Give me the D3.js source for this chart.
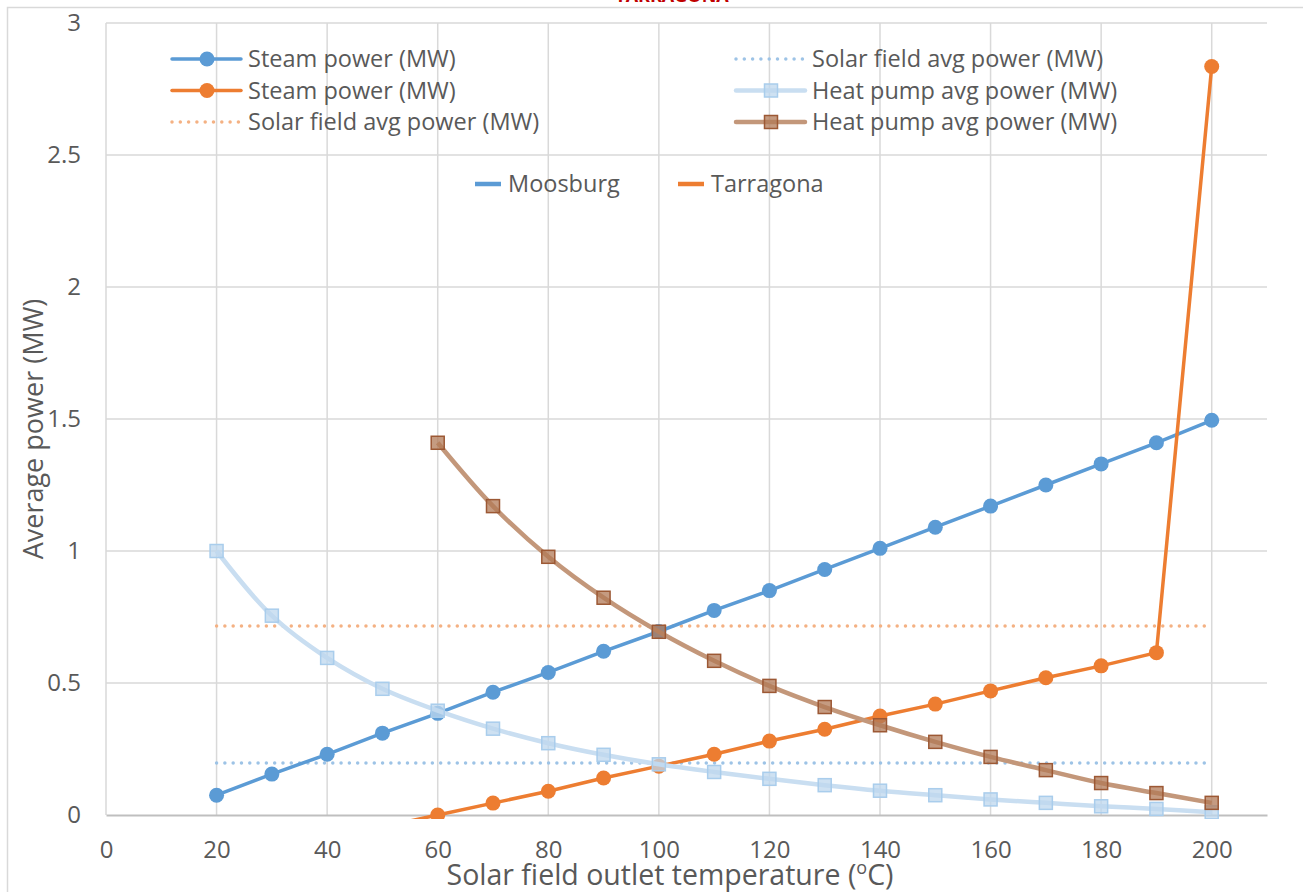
<!DOCTYPE html>
<meta charset="utf-8">
<script src="https://d3js.org/d3.v7.min.js"></script>
<style>
  body { margin: 0; background: #fff; }
  text { font-family: "Open Sans", sans-serif; fill: #595959; }
</style>
<div id="my_dataviz"></div>
<script>
    // data
    var temps = [20, 30, 40, 50, 60, 70, 80, 90, 100, 110, 120, 130, 140, 150, 160, 170, 180, 190, 200];
    var moosSteam = [0.075, 0.155, 0.23, 0.31, 0.385, 0.465, 0.54, 0.62, 0.695, 0.775, 0.85, 0.93, 1.01, 1.09, 1.17, 1.25, 1.33, 1.41, 1.495];
    var moosHeatPump = [1.0, 0.755, 0.595, 0.478, 0.395, 0.327, 0.272, 0.228, 0.192, 0.163, 0.137, 0.113, 0.092, 0.075, 0.059, 0.046, 0.033, 0.023, 0.01];
    var moosSolar = 0.197;

    var tarrTemps = [50, 60, 70, 80, 90, 100, 110, 120, 130, 140, 150, 160, 170, 180, 190, 200];
    var tarrSteam = [-0.045, 0, 0.045, 0.09, 0.14, 0.185, 0.23, 0.28, 0.325, 0.375, 0.42, 0.47, 0.52, 0.565, 0.615, 2.835];
    var tarrHpTemps = [60, 70, 80, 90, 100, 110, 120, 130, 140, 150, 160, 170, 180, 190, 200];
    var tarrHeatPump = [1.41, 1.17, 0.978, 0.823, 0.694, 0.584, 0.489, 0.409, 0.34, 0.277, 0.22, 0.17, 0.121, 0.083, 0.046];
    var tarrSolar = 0.716;

    var xTicks = [0, 20, 40, 60, 80, 100, 120, 140, 160, 180, 200];
    var yTicks = [0, 0.5, 1, 1.5, 2, 2.5, 3];

    var W = 1303, H = 892;
    var plotL = 106, plotR = 1267, plotT = 23, plotB = 815;

    var svg = d3.select("#my_dataviz")
        .append("svg")
        .attr("width", W)
        .attr("height", H);

    // cut off heading at the very top
    svg.append("text")
        .attr("x", 672).attr("y", 2)
        .attr("text-anchor", "middle")
        .style("font-size", "18px").style("font-weight", "bold").style("fill", "#C00000")
        .text("TARRAGONA");

    // chart border
    svg.append("rect")
        .attr("x", 7.5).attr("y", 7.5)
        .attr("width", 1320).attr("height", 900)
        .attr("fill", "none").attr("stroke", "#D9D9D9").attr("stroke-width", 1.5);

    var x = d3.scaleLinear().domain([0, 210]).range([plotL, plotR]);
    var y = d3.scaleLinear().domain([0, 3]).range([plotB, plotT]);

    // gridlines
    svg.append("g").selectAll("line").data(yTicks.slice(1)).enter().append("line")
        .attr("x1", plotL).attr("x2", plotR)
        .attr("y1", function(d) { return y(d); }).attr("y2", function(d) { return y(d); })
        .attr("stroke", "#D9D9D9").attr("stroke-width", 1.5);
    svg.append("g").selectAll("line").data(xTicks).enter().append("line")
        .attr("x1", function(d) { return x(d); }).attr("x2", function(d) { return x(d); })
        .attr("y1", plotT).attr("y2", plotB)
        .attr("stroke", "#D9D9D9").attr("stroke-width", 1.5);

    // x axis
    var xAxis = svg.append("g")
        .attr("transform", "translate(0," + plotB + ")")
        .call(d3.axisBottom(x).tickValues(xTicks).tickSize(0).tickPadding(26));
    xAxis.select(".domain").attr("stroke", "#BFBFBF").attr("stroke-width", 2);
    xAxis.selectAll("text").style("font-size", "24px").style("fill", "#595959").style("font-family", "Open Sans");

    // y axis (labels only)
    var yAxis = svg.append("g")
        .attr("transform", "translate(" + plotL + ",0)")
        .call(d3.axisLeft(y).tickValues(yTicks).tickFormat(d3.format("")).tickSize(0).tickPadding(25));
    yAxis.select(".domain").remove();
    yAxis.selectAll("text").style("font-size", "24px").style("fill", "#595959").style("font-family", "Open Sans");

    // axis titles
    var xt = svg.append("text")
        .attr("x", 670).attr("y", 885)
        .attr("text-anchor", "middle")
        .style("font-size", "28.5px");
    xt.append("tspan").text("Solar field outlet temperature (");
    xt.append("tspan").attr("dy", -11).style("font-size", "18px").text("o");
    xt.append("tspan").attr("dy", 11).text("C)");

    svg.append("text")
        .attr("transform", "translate(43," + 429 + ") rotate(-90)")
        .attr("text-anchor", "middle")
        .style("font-size", "27px")
        .text("Average power (MW)");

    // plot clip
    svg.append("clipPath").attr("id", "plotclip")
        .append("rect").attr("x", plotL).attr("y", 0).attr("width", plotR - plotL).attr("height", plotB + 4);

    var plot = svg.append("g").attr("clip-path", "url(#plotclip)");

    var straight = d3.line().x(function(d) { return x(d[0]); }).y(function(d) { return y(d[1]); });
    var smooth = d3.line().curve(d3.curveCatmullRom.alpha(0.5)).x(function(d) { return x(d[0]); }).y(function(d) { return y(d[1]); });

    function zip(xs, ys) { return xs.map(function(v, i) { return [v, ys[i]]; }); }

    // solar field averages (dotted)
    plot.append("path").datum([[20, tarrSolar], [200, tarrSolar]]).attr("d", straight)
        .attr("fill", "none").attr("stroke", "#F4B183").attr("stroke-width", 3.5)
        .attr("stroke-linecap", "round").attr("stroke-dasharray", "0 8.3");
    plot.append("path").datum([[20, moosSolar], [200, moosSolar]]).attr("d", straight)
        .attr("fill", "none").attr("stroke", "#9DC3E6").attr("stroke-width", 3.5)
        .attr("stroke-linecap", "round").attr("stroke-dasharray", "0 8.3");

    // steam power
    function steam(data, color) {
        plot.append("path").datum(data).attr("d", straight)
            .attr("fill", "none").attr("stroke", color).attr("stroke-width", 3.5);
        plot.append("g").selectAll("circle").data(data).enter().append("circle")
            .attr("cx", function(d) { return x(d[0]); })
            .attr("cy", function(d) { return y(d[1]); })
            .attr("r", 7.5).attr("fill", color);
    }
    steam(zip(temps, moosSteam), "#5B9BD5");
    steam(zip(tarrTemps, tarrSteam), "#ED7D31");

    // heat pump averages
    function heatPump(data, lineColor, fill, stroke) {
        plot.append("path").datum(data).attr("d", smooth)
            .attr("fill", "none").attr("stroke", lineColor).attr("stroke-width", 4.5);
        plot.append("g").selectAll("rect").data(data).enter().append("rect")
            .attr("x", function(d) { return x(d[0]) - 6.5; })
            .attr("y", function(d) { return y(d[1]) - 6.5; })
            .attr("width", 13).attr("height", 13)
            .attr("fill", fill).attr("fill-opacity", 0.75)
            .attr("stroke", stroke).attr("stroke-width", 1.5);
    }
    heatPump(zip(temps, moosHeatPump), "#C9DEF1", "#BDD7EE", "#A9CDEC");
    heatPump(zip(tarrHpTemps, tarrHeatPump), "#C3977A", "#B27A57", "#9C5834");

    // legend 1
    var legend = [
        {label: "Steam power (MW)", col: 0, row: 0, color: "#5B9BD5", type: "circle"},
        {label: "Steam power (MW)", col: 0, row: 1, color: "#ED7D31", type: "circle"},
        {label: "Solar field avg power (MW)", col: 0, row: 2, color: "#F4B183", type: "dot"},
        {label: "Solar field avg power (MW)", col: 1, row: 0, color: "#9DC3E6", type: "dot"},
        {label: "Heat pump avg power (MW)", col: 1, row: 1, color: "#C9DEF1", type: "square", fill: "#BDD7EE", stroke: "#A9CDEC"},
        {label: "Heat pump avg power (MW)", col: 1, row: 2, color: "#C3977A", type: "square", fill: "#B27A57", stroke: "#9C5834"}
    ];
    var colX = [172, 736];
    legend.forEach(function(d) {
        var lx = colX[d.col], ly = 59 + d.row * 31.5;
        var g = svg.append("g");
        var ln = g.append("line").attr("x1", lx).attr("x2", lx + 69).attr("y1", ly).attr("y2", ly)
            .attr("stroke", d.color);
        if (d.type === "dot") {
            ln.attr("stroke-width", 3.5).attr("stroke-linecap", "round").attr("stroke-dasharray", "0 8.3");
        } else if (d.type === "circle") {
            ln.attr("stroke-width", 3.5).attr("stroke-linecap", "round");
            g.append("circle").attr("cx", lx + 35).attr("cy", ly).attr("r", 7.5).attr("fill", d.color);
        } else {
            ln.attr("stroke-width", 4.5).attr("stroke-linecap", "round");
            g.append("rect").attr("x", lx + 35 - 6.5).attr("y", ly - 6.5).attr("width", 13).attr("height", 13)
                .attr("fill", d.fill).attr("fill-opacity", 0.75).attr("stroke", d.stroke).attr("stroke-width", 1.5);
        }
        g.append("text").attr("x", lx + 76).attr("y", ly).attr("dy", "0.35em")
            .style("font-size", "23.5px").text(d.label);
    });

    // legend 2
    var sites = ["Moosburg", "Tarragona"];
    var siteColors = ["#5B9BD5", "#ED7D31"];
    var siteX = [475, 678];
    sites.forEach(function(s, i) {
        svg.append("line").attr("x1", siteX[i]).attr("x2", siteX[i] + 26).attr("y1", 184).attr("y2", 184)
            .attr("stroke", siteColors[i]).attr("stroke-width", 4.5);
        svg.append("text").attr("x", siteX[i] + 33).attr("y", 184).attr("dy", "0.35em")
            .style("font-size", "23.5px").text(s);
    });
</script>
